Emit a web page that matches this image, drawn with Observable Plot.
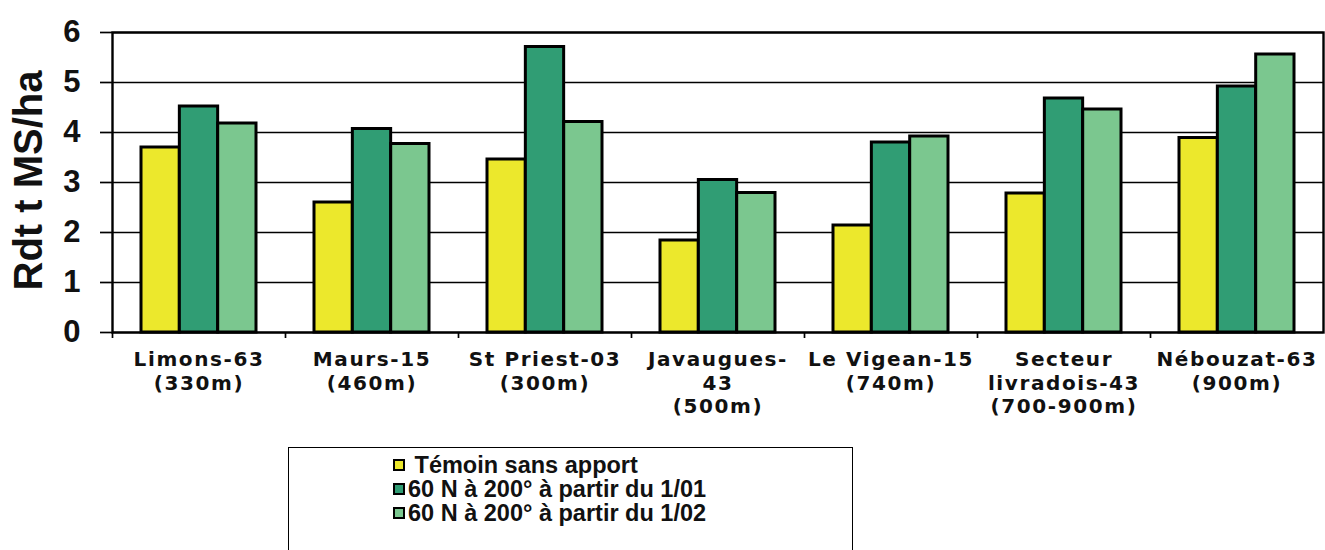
<!DOCTYPE html>
<html>
<head>
<meta charset="utf-8">
<script src="https://cdn.jsdelivr.net/npm/d3@7"></script>
<script src="https://cdn.jsdelivr.net/npm/@observablehq/plot@0.6"></script>
<style>
  html, body { margin: 0; padding: 0; background: #fff; }
  #wrap { position: relative; width: 1325px; height: 550px; overflow: hidden; }
  #legend {
    position: absolute; left: 288px; top: 447px; width: 565px; height: 140px;
    box-sizing: border-box; border: 1.5px solid #000; background: #fff;
    font-family: "Liberation Sans", Arial, sans-serif; font-weight: bold; font-size: 23.5px;
    color: #111; padding-top: 5px; padding-left: 104px;
  }
  #legend .row { height: 24px; line-height: 24px; white-space: pre; display: flex; align-items: center; }
  #legend .sw { display: inline-block; width: 8px; height: 8px; border: 2px solid #000; margin-right: 3px; }
  g[aria-label="x-axis tick label"] text { letter-spacing: 1.6px; }
</style>
</head>
<body>
<div id="wrap">
  <div id="chart"></div>
  <div id="legend"></div>
</div>
<script>
// ---- data ----
const sites = [
  "Limons-63\n(330m)",
  "Maurs-15\n(460m)",
  "St Priest-03\n(300m)",
  "Javaugues-\n43\n(500m)",
  "Le Vigean-15\n(740m)",
  "Secteur\nlivradois-43\n(700-900m)",
  "Nébouzat-63\n(900m)"
];
const seriesNames = [
  "Témoin sans apport",
  "60 N à 200° à partir du 1/01",
  "60 N à 200° à partir du 1/02"
];
const temoin = [3.70, 2.60, 3.46, 1.84, 2.14, 2.78, 3.89];
const n0101  = [4.52, 4.07, 5.71, 3.05, 3.80, 4.68, 4.92];
const n0102  = [4.18, 3.77, 4.21, 2.79, 3.92, 4.46, 5.56];
const colors = ["#ece82c", "#309d74", "#7bc78f"];
const yTicks = [0, 1, 2, 3, 4, 5, 6];
const yTitle = "Rdt t MS/ha";

// ---- table ----
const valueLists = [temoin, n0101, n0102];
const data = sites.flatMap((s, i) =>
  seriesNames.map((k, j) => ({ site: s, series: k, si: j, value: valueLists[j][i] }))
);

const W = 1325, mL = 112, mR = 2;
const padIn = 0.335;
const step = (W - mL - mR) / sites.length;       // paddingOuter = paddingInner / 2
const bandW = step * (1 - padIn);
const barW = bandW / seriesNames.length;

const barMarks = seriesNames.map((k, j) =>
  Plot.barY(data.filter(d => d.si === j), {
    x: "site", y: "value", fill: "series", stroke: "#000", strokeWidth: 3,
    insetLeft: j * barW, insetRight: (seriesNames.length - 1 - j) * barW
  })
);

const chart = Plot.plot({
  width: W,
  height: 440,
  marginLeft: mL,
  marginRight: mR,
  marginTop: 32,
  marginBottom: 108,
  style: { fontFamily: "'Liberation Sans', Arial, sans-serif", background: "#fff", color: "#111", overflow: "visible" },
  x: { domain: sites, paddingInner: padIn, paddingOuter: padIn / 2 },
  y: { domain: [0, 6] },
  color: { domain: seriesNames, range: colors },
  marks: [
    Plot.gridY(yTicks, { stroke: "#000", strokeOpacity: 1, strokeWidth: 1.7 }),
    ...barMarks,
    Plot.frame({ stroke: "#000", strokeWidth: 2.4 }),
    Plot.axisY({ ticks: yTicks, tickFormat: d3.format("d"), tickSize: 12, tickPadding: 20, fontSize: 31, fontWeight: "bold",
                 label: null, stroke: "#000", strokeWidth: 1.7 }),
    Plot.axisX({ anchor: "bottom", tickSize: 6, tickFormat: () => "", dx: -step / 2,
                 stroke: "#000", strokeWidth: 1.7, label: null }),
    Plot.axisX({ anchor: "bottom", tickSize: 0, tickPadding: 17, fontSize: 20, fontWeight: "bold",
                 fontFamily: "'DejaVu Sans', Verdana, sans-serif", lineHeight: 1.18, label: null }),
    Plot.text([yTitle], { text: d => d, frameAnchor: "left", textAnchor: "middle", lineAnchor: "middle",
                          dx: -83, dy: -2, rotate: -90, fontSize: 40, fontWeight: "bold", fill: "#111" })
  ]
});
document.getElementById("chart").appendChild(chart);

// ---- legend ----
const legend = d3.select("#legend");
seriesNames.forEach((name, i) => {
  const row = legend.append("div").attr("class", "row");
  row.append("span").attr("class", "sw").style("background", colors[i]);
  row.append("span").text((i === 0 ? " " : "") + name);
});
</script>
</body>
</html>
